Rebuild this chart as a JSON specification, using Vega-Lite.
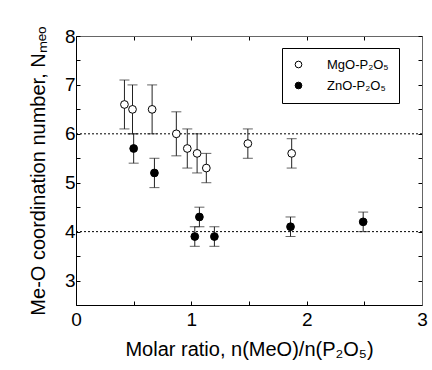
{
  "$schema": "https://vega.github.io/schema/vega-lite/v6.json",
  "autosize": "none",
  "width": 346,
  "height": 269,
  "padding": {"left": 76, "top": 36, "right": 10, "bottom": 65},
  "background": "white",
  "config": {
    "view": {"stroke": null},
    "font": "Liberation Sans",
    "axis": {
      "grid": false,
      "labelFont": "Liberation Sans",
      "titleFont": "Liberation Sans",
      "labelFontSize": 19,
      "titleFontSize": 20,
      "titleFontWeight": "normal",
      "labelColor": "black",
      "titleColor": "black",
      "domainColor": "black",
      "tickColor": "black",
      "tickSize": -4,
      "labelFlush": false,
      "labelOverlap": false
    },
    "legend": {
      "labelFont": "Liberation Sans",
      "labelFontSize": 13,
      "labelColor": "black"
    }
  },
  "datasets": {
    "pts": [
      {"series": "MgO-P₂O₅", "r": 0.42, "n": 6.6, "lo": 6.1, "hi": 7.1},
      {"series": "MgO-P₂O₅", "r": 0.49, "n": 6.5, "lo": 6.0, "hi": 7.0},
      {"series": "MgO-P₂O₅", "r": 0.66, "n": 6.5, "lo": 6.0, "hi": 7.0},
      {"series": "MgO-P₂O₅", "r": 0.87, "n": 6.0, "lo": 5.55, "hi": 6.45},
      {"series": "MgO-P₂O₅", "r": 0.965, "n": 5.7, "lo": 5.3, "hi": 6.1},
      {"series": "MgO-P₂O₅", "r": 1.05, "n": 5.6, "lo": 5.2, "hi": 6.0},
      {"series": "MgO-P₂O₅", "r": 1.13, "n": 5.3, "lo": 5.0, "hi": 5.6},
      {"series": "MgO-P₂O₅", "r": 1.49, "n": 5.8, "lo": 5.5, "hi": 6.1},
      {"series": "MgO-P₂O₅", "r": 1.87, "n": 5.6, "lo": 5.3, "hi": 5.9},
      {"series": "ZnO-P₂O₅", "r": 0.5, "n": 5.7, "lo": 5.4, "hi": 6.0},
      {"series": "ZnO-P₂O₅", "r": 0.68, "n": 5.2, "lo": 4.9, "hi": 5.5},
      {"series": "ZnO-P₂O₅", "r": 1.03, "n": 3.9, "lo": 3.7, "hi": 4.1},
      {"series": "ZnO-P₂O₅", "r": 1.07, "n": 4.3, "lo": 4.1, "hi": 4.5},
      {"series": "ZnO-P₂O₅", "r": 1.2, "n": 3.9, "lo": 3.7, "hi": 4.1},
      {"series": "ZnO-P₂O₅", "r": 1.86, "n": 4.1, "lo": 3.9, "hi": 4.3},
      {"series": "ZnO-P₂O₅", "r": 2.49, "n": 4.2, "lo": 4.0, "hi": 4.4}
    ],
    "refs": [{"n": 4}, {"n": 6}]
  },
  "resolve": {"axis": {"x": "independent", "y": "independent"}},
  "layer": [
    {
      "data": {"name": "refs"},
      "mark": {"type": "rule", "color": "black", "strokeWidth": 1, "strokeDash": [2, 2]},
      "encoding": {
        "y": {"field": "n", "type": "quantitative",
              "scale": {"domain": [2.5, 8], "nice": false, "zero": false},
              "axis": {"orient": "right", "labels": false, "title": null, "domainColor": "#666",
                       "values": [2.5,3,3.5,4,4.5,5,5.5,6,6.5,7,7.5,8]}}
      }
    },
    {
      "data": {"name": "pts"},
      "mark": {"type": "rule", "color": "#222", "strokeWidth": 1},
      "encoding": {
        "x": {"field": "r", "type": "quantitative",
              "scale": {"domain": [0, 3], "nice": false, "zero": false},
              "axis": {"orient": "top", "labels": false, "title": null, "domainColor": "#666",
                       "values": [0,0.5,1,1.5,2,2.5,3]}},
        "y": {"field": "lo", "type": "quantitative", "axis": null},
        "y2": {"field": "hi"}
      }
    },
    {
      "data": {"name": "pts"},
      "mark": {"type": "tick", "orient": "horizontal", "color": "#222", "thickness": 1, "size": 10},
      "encoding": {
        "x": {"field": "r", "type": "quantitative", "axis": null},
        "y": {"field": "lo", "type": "quantitative", "axis": null}
      }
    },
    {
      "data": {"name": "pts"},
      "mark": {"type": "tick", "orient": "horizontal", "color": "#222", "thickness": 1, "size": 10},
      "encoding": {
        "x": {"field": "r", "type": "quantitative", "axis": null},
        "y": {"field": "hi", "type": "quantitative", "axis": null}
      }
    },
    {
      "data": {"name": "pts"},
      "mark": {"type": "point", "shape": "circle", "filled": true, "stroke": "black", "strokeWidth": 1, "size": 60, "opacity": 1},
      "encoding": {
        "x": {"field": "r", "type": "quantitative",
              "axis": {"orient": "bottom", "title": "Molar ratio, n(MeO)/n(P₂O₅)",
                       "values": [0,0.5,1,1.5,2,2.5,3],
                       "labelExpr": "datum.value % 1 == 0 ? format(datum.value, 'd') : ''",
                       "labelPadding": 9, "titlePadding": 10}},
        "y": {"field": "n", "type": "quantitative",
              "axis": {"orient": "left", "title": "Me-O coordination number, Nₘₑₒ",
                       "values": [2.5,3,3.5,4,4.5,5,5.5,6,6.5,7,7.5,8],
                       "labelExpr": "datum.value % 1 == 0 ? format(datum.value, 'd') : ''",
                       "labelPadding": 5, "titlePadding": 16}},
        "fill": {"field": "series", "type": "nominal",
                 "scale": {"domain": ["MgO-P₂O₅", "ZnO-P₂O₅"], "range": ["white", "black"]},
                 "legend": {"orient": "none", "legendX": 206, "legendY": 12, "title": null,
                            "strokeColor": "black", "padding": 10, "symbolType": "circle",
                            "symbolSize": 45, "symbolStrokeColor": "black", "symbolStrokeWidth": 1,
                            "labelOffset": 22, "rowPadding": 7, "fillColor": "white"}}
      }
    }
  ]
}
